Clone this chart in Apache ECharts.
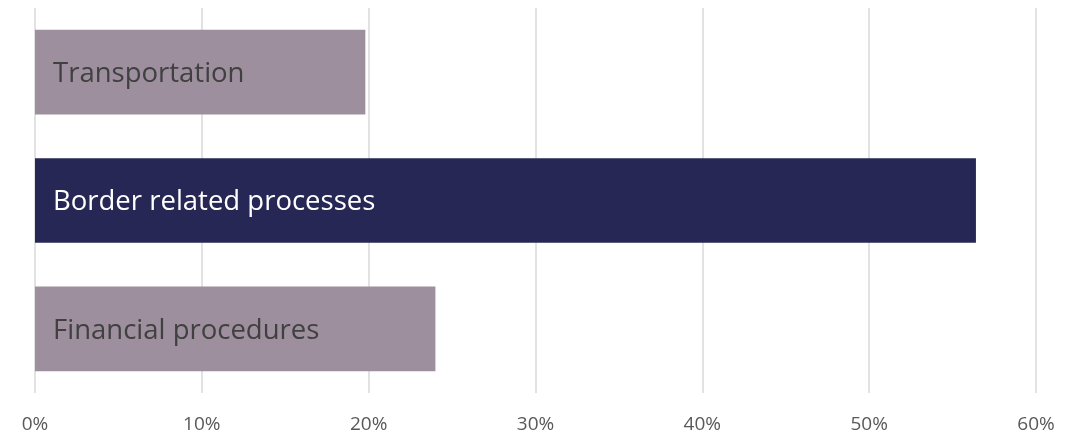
<!DOCTYPE html>
<html lang="en">
<head>
    <meta charset="UTF-8">
    <title>Bar chart</title>
    <style>
        html, body { margin: 0; padding: 0; background: #fff; }
        #main { width: 1076px; height: 435px; }
    </style>
</head>
<body>

<div id="main"></div>

<script src="https://cdn.jsdelivr.net/npm/echarts@6/dist/echarts.min.js"></script>
<script type="text/javascript">

    // data
    var categories = ['Transportation', 'Border related processes', 'Financial procedures'];
    var values = [19.8, 56.4, 24.0];
    var tickLabels = ['0%', '10%', '20%', '30%', '40%', '50%', '60%'];

    var highlight = 'Border related processes';

    var chart = echarts.init(document.getElementById('main'));

    chart.setOption({
        animation: false,
        grid: { left: 35, right: 40, top: 8, bottom: 42 },
        xAxis: {
            type: 'value',
            min: 0,
            max: 60,
            interval: 10,
            axisLine: { show: false },
            axisTick: { show: false },
            splitLine: { lineStyle: { color: '#d9d9d9', width: 1.5 } },
            axisLabel: {
                margin: 22,
                color: '#595959',
                fontFamily: 'Open Sans',
                fontSize: 19,
                formatter: function (v) { return tickLabels[v / 10]; }
            }
        },
        yAxis: {
            type: 'category',
            inverse: true,
            data: categories,
            axisLine: { show: false },
            axisTick: { show: false },
            axisLabel: { show: false }
        },
        series: [{
            type: 'bar',
            barCategoryGap: '34%',
            data: values.map(function (v, i) {
                var hi = categories[i] === highlight;
                return {
                    value: v,
                    itemStyle: { color: hi ? '#262755' : '#9e8f9e' },
                    label: { color: hi ? '#ffffff' : '#404040' }
                };
            }),
            label: {
                show: true,
                position: 'insideLeft',
                distance: 18,
                offset: [0, 2],
                fontFamily: 'Open Sans',
                fontSize: 27.5,
                formatter: function (p) { return p.name; }
            }
        }]
    });
</script>
</body>
</html>
